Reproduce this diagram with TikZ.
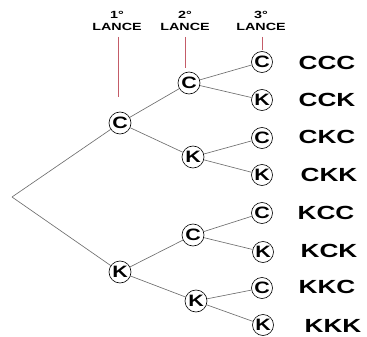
\documentclass[tikz,border=0pt]{standalone}
\usepackage{fontspec}
\usepackage{graphicx}
\setmainfont{Liberation Sans}
\definecolor{marker}{RGB}{196,92,104}
\definecolor{edge}{RGB}{110,110,110}
\newcommand{\wide}[2][1.38]{\scalebox{#1}[1]{\bfseries #2}}
\tikzset{
  coin/.style={draw=black, line width=0.6pt, circle, minimum size=22pt, inner sep=0pt, fill=white, font=\fontsize{16.5}{16.5}\selectfont},
  leaf/.style={coin, minimum size=21pt},
  outcome/.style={inner sep=0pt, font=\fontsize{19}{19}\selectfont},
  head/.style={inner sep=0pt, align=center, font=\fontsize{10.4}{12}\selectfont},
  branch/.style={draw=edge, line width=0.65pt},
  guide/.style={draw=marker, line width=0.7pt}
}
\begin{document}
\begin{tikzpicture}[x=1pt, y=-1pt]
\useasboundingbox (0,0) rectangle (367,337);

% column headings
\node[head] (h1) at (117,21) {\wide{1°}\\\wide{LANCE}};
\node[head] (h2) at (185,21) {\wide{2°}\\\wide{LANCE}};
\node[head] (h3) at (261,21) {\wide{3°}\\\wide{LANCE}};

% tree
\coordinate (root) at (12,197);
\node[coin] (c) at (120,123) {\wide[1.3]{C}};
\node[coin] (k) at (120,272) {\wide[1.3]{K}};

\node[coin] (cc) at (189,83) {\wide[1.3]{C}};
\node[coin] (ck) at (193,157) {\wide[1.3]{K}};
\node[coin] (kc) at (193,235) {\wide[1.3]{C}};
\node[coin] (kk) at (196,301) {\wide[1.3]{K}};

\node[leaf] (ccc) at (262,62) {\wide[1.3]{C}};
\node[leaf] (cck) at (262,100) {\wide[1.3]{K}};
\node[leaf] (ckc) at (262,138) {\wide[1.3]{C}};
\node[leaf] (ckk) at (262,175) {\wide[1.3]{K}};
\node[leaf] (kcc) at (262,213) {\wide[1.3]{C}};
\node[leaf] (kck) at (263,252) {\wide[1.3]{K}};
\node[leaf] (kkc) at (262,288) {\wide[1.3]{C}};
\node[leaf] (kkk) at (263,325) {\wide[1.3]{K}};

% heading markers
\coordinate (t1) at (118,37);
\coordinate (m1) at (118,97);
\coordinate (t2) at (185,37);
\coordinate (m2) at (185,68);
\coordinate (t3) at (262,37);
\coordinate (m3) at (262,50);
\draw[guide] (t1) -- (m1);
\draw[guide] (t2) -- (m2);
\draw[guide] (t3) -- (m3);

\draw[branch] (root) -- (c);
\draw[branch] (root) -- (k);
\draw[branch] (c) -- (cc);
\draw[branch] (c) -- (ck);
\draw[branch] (k) -- (kc);
\draw[branch] (k) -- (kk);
\draw[branch] (cc) -- (ccc);
\draw[branch] (cc) -- (cck);
\draw[branch] (ck) -- (ckc);
\draw[branch] (ck) -- (ckk);
\draw[branch] (kc) -- (kcc);
\draw[branch] (kc) -- (kck);
\draw[branch] (kk) -- (kkc);
\draw[branch] (kk) -- (kkk);

% outcomes
\node[outcome] (o1) at (327,63) {\wide{CCC}};
\node[outcome] (o2) at (327,100) {\wide{CCK}};
\node[outcome] (o3) at (327,137) {\wide{CKC}};
\node[outcome] (o4) at (329,175) {\wide{CKK}};
\node[outcome] (o5) at (326,213) {\wide{KCC}};
\node[outcome] (o6) at (329,251) {\wide{KCK}};
\node[outcome] (o7) at (327,287) {\wide{KKC}};
\node[outcome] (o8) at (333,326) {\wide{KKK}};
\end{tikzpicture}
\end{document}
